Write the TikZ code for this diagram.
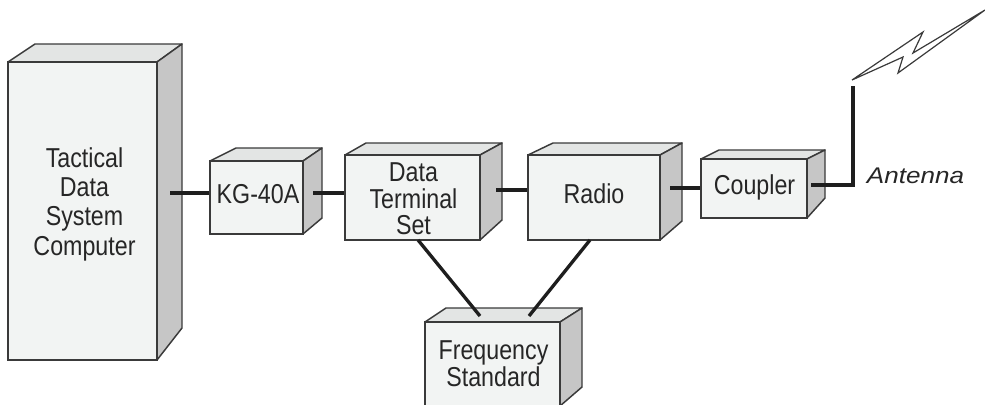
\documentclass[tikz,border=0pt]{standalone}
\usepackage{fontspec}
\setmainfont[FakeStretch=0.85]{Liberation Sans}
\newfontfamily\antennafont[FakeStretch=1.15]{Liberation Sans}
\definecolor{edgegray}{HTML}{3A3A3A}
\definecolor{frontgray}{HTML}{F2F4F3}
\definecolor{topgray}{HTML}{E3E5E4}
\definecolor{sidegray}{HTML}{C6C6C6}
\definecolor{wiregray}{HTML}{1E1E1E}
\tikzset{
    front/.style={draw=edgegray, fill=frontgray, line width=1.1pt, inner sep=0pt},
    boxlabel/.style={inner sep=0pt, align=center, text=black!85, font=\fontsize{20.5}{22}\selectfont},
    tightlabel/.style={boxlabel, font=\fontsize{20.5}{20}\selectfont},
    topface/.style={draw=edgegray, fill=topgray, line width=1.1pt, line join=round},
    sideface/.style={draw=edgegray, fill=sidegray, line width=1.1pt, line join=round},
    wire/.style={draw=wiregray, line width=2.5pt},
    bolt/.style={draw=edgegray, fill=white, line width=0.9pt, line join=miter}
}
\begin{document}
\begin{tikzpicture}[x=0.75pt, y=-0.75pt]
\useasboundingbox (0,0) rectangle (985,404);
\clip (0,0) rectangle (985,404);
% computer
\draw[style={topface}] (8,62) -- (35,44) -- (182,44) -- (157,62) -- cycle;
\draw[style={sideface}] (157,62) -- (182,44) -- (182,328) -- (157,360) -- cycle;
\node[style={front}, minimum width=111.75pt, minimum height=223.5pt] (computer) at (82.5,211) {};
\node[style={boxlabel}] (computerlabel) at (84.5,204) {Tactical\\Data\\System\\Computer};
% kg-40a
\draw[style={topface}] (210,161) -- (236,148) -- (322,148) -- (303,161) -- cycle;
\draw[style={sideface}] (303,161) -- (322,148) -- (322,218) -- (303,234) -- cycle;
\node[style={front}, minimum width=69.75pt, minimum height=54.75pt] (kg) at (256.5,197.5) {};
\node[style={boxlabel}] (kglabel) at (258,194) {KG-40A};
% terminal
\draw[style={topface}] (345,155) -- (366,143) -- (502,143) -- (480,155) -- cycle;
\draw[style={sideface}] (480,155) -- (502,143) -- (502,220) -- (480,240) -- cycle;
\node[style={front}, minimum width=101.25pt, minimum height=63.75pt] (terminal) at (412.5,197.5) {};
\node[style={tightlabel}] (terminallabel) at (413.5,199) {Data\\Terminal\\Set};
% radio
\draw[style={topface}] (528,155) -- (553,143) -- (682,143) -- (660,155) -- cycle;
\draw[style={sideface}] (660,155) -- (682,143) -- (682,221) -- (660,240) -- cycle;
\node[style={front}, minimum width=99pt, minimum height=63.75pt] (radio) at (594,197.5) {};
\node[style={boxlabel}] (radiolabel) at (594,194) {Radio};
% coupler
\draw[style={topface}] (701,159) -- (719,150) -- (825,150) -- (807,159) -- cycle;
\draw[style={sideface}] (807,159) -- (825,150) -- (825,198) -- (807,218) -- cycle;
\node[style={front}, minimum width=79.5pt, minimum height=44.25pt] (coupler) at (754,188.5) {};
\node[style={boxlabel}] (couplerlabel) at (754.5,187.5) {Coupler};
% frequency standard
\draw[style={topface}] (425,322) -- (446,308) -- (582,308) -- (560,322) -- cycle;
\draw[style={sideface}] (560,322) -- (582,308) -- (582,387) -- (560,406) -- cycle;
\node[style={front}, minimum width=101.25pt, minimum height=66pt] (frequency) at (492.5,366) {};
\node[style={tightlabel}] (frequencylabel) at (493.5,364) {Frequency\\Standard};
% antenna
\coordinate (computerout) at (170,193);
\coordinate (kgout) at (313,193);
\coordinate (terminalout) at (496,190);
\coordinate (radioout) at (670,188);
\coordinate (couplerout) at (813,185);
\coordinate (antennafoot) at (853,185);
\coordinate (antennatop) at (853,88);
\coordinate (terminalfoot) at (418,240);
\coordinate (radiofoot) at (590,240);
\coordinate (frequencyleft) at (480,316);
\coordinate (frequencyright) at (529,316);
\draw[style={wire}] (computerout) -- (kg.west |- computerout);
\draw[style={wire}] (kgout) -- (terminal.west |- kgout);
\draw[style={wire}] (terminalout) -- (radio.west |- terminalout);
\draw[style={wire}] (radioout) -- (coupler.west |- radioout);
\draw[style={wire}, line cap=rect] (couplerout) -- (antennafoot) -- (antennatop);
\draw[style={wire}] (terminalfoot) -- (frequencyleft);
\draw[style={wire}] (radiofoot) -- (frequencyright);
\draw[style={bolt}] (852,80) -- (923,32) -- (913,53) -- (985,10) -- (898,73) -- (903,57) -- cycle;
\node[inner sep=0pt, font=\antennafont\itshape\fontsize{17}{18}\selectfont, text=black!85] (antenna) at (915.5,176) {Antenna};
\end{tikzpicture}
\end{document}
